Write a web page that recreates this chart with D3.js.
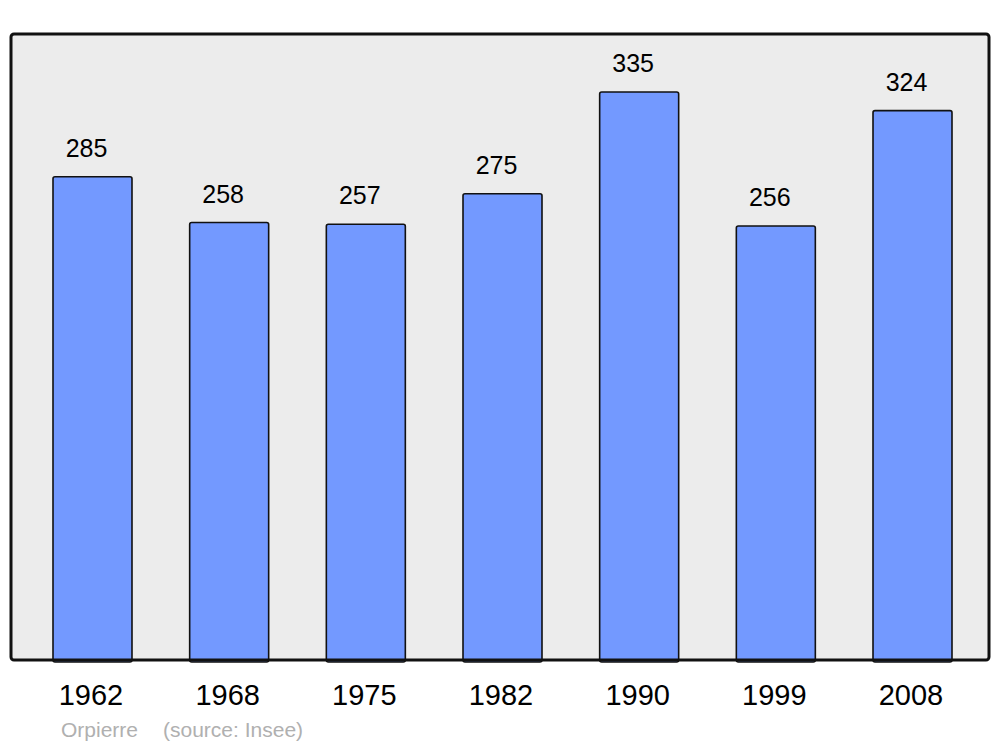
<!DOCTYPE html>
<html>
<head>
<meta charset="utf-8">
<script src="https://cdn.jsdelivr.net/npm/d3@7"></script>
<style>
  body { margin: 0; background: #fff; }
  svg { display: block; font-family: "Liberation Sans", Arial, sans-serif; }
</style>
</head>
<body>
<svg width="1000" height="747"></svg>
<script>
// population by census year
var years = ["1962", "1968", "1975", "1982", "1990", "1999", "2008"];
var population = [285, 258, 257, 275, 335, 256, 324];
var town = "Orpierre";
var source = "(source: Insee)";

var svg = d3.select("svg");

var frame = { left: 11, right: 989, top: 34, bottom: 660 };

var x = d3.scaleBand()
    .domain(years)
    .range([53, 952])
    .paddingInner(0.422)
    .paddingOuter(0);

var y = d3.scaleLinear()
    .domain([0, d3.max(population)])
    .range([frame.bottom, 92]);

var data = years.map(function(yr, i) { return { year: yr, value: population[i] }; });

// background panel
svg.append("rect")
    .attr("x", frame.left)
    .attr("y", frame.top)
    .attr("width", frame.right - frame.left)
    .attr("height", frame.bottom - frame.top)
    .attr("rx", 3)
    .attr("fill", "#ececec")
    .attr("stroke", "none");

var g = svg.append("g");

g.selectAll("rect.bar")
    .data(data)
    .enter().append("rect")
    .attr("class", "bar")
    .attr("x", function(d) { return x(d.year); })
    .attr("y", function(d) { return y(d.value); })
    .attr("width", x.bandwidth())
    .attr("height", function(d) { return y(0) - y(d.value) + 2; })
    .attr("rx", 2)
    .attr("fill", "#7399ff")
    .attr("stroke", "#111")
    .attr("stroke-width", 1.6);

g.selectAll("text.val")
    .data(data)
    .enter().append("text")
    .attr("class", "val")
    .attr("x", function(d) { return x(d.year) + x.bandwidth() / 2 - 6; })
    .attr("y", function(d) { return y(d.value) - 20; })
    .attr("text-anchor", "middle")
    .style("font-size", "25px")
    .attr("fill", "#000")
    .text(function(d) { return d.value; });

// frame drawn on top so bar bottoms sit under the border
svg.append("rect")
    .attr("x", frame.left)
    .attr("y", frame.top)
    .attr("width", frame.right - frame.left)
    .attr("height", frame.bottom - frame.top)
    .attr("rx", 3)
    .attr("fill", "none")
    .attr("stroke", "#111")
    .attr("stroke-width", 3);

svg.selectAll("text.year")
    .data(years)
    .enter().append("text")
    .attr("class", "year")
    .attr("x", function(d) { return x(d) + x.bandwidth() / 2 - 1.5; })
    .attr("y", 705)
    .attr("text-anchor", "middle")
    .style("font-size", "29px")
    .attr("fill", "#000")
    .text(function(d) { return d; });

svg.append("text")
    .attr("x", 61)
    .attr("y", 737)
    .style("font-size", "21px")
    .attr("fill", "#b0b0b0")
    .text(town);

svg.append("text")
    .attr("x", 163)
    .attr("y", 737)
    .style("font-size", "21px")
    .attr("fill", "#b0b0b0")
    .text(source);
</script>
</body>
</html>
